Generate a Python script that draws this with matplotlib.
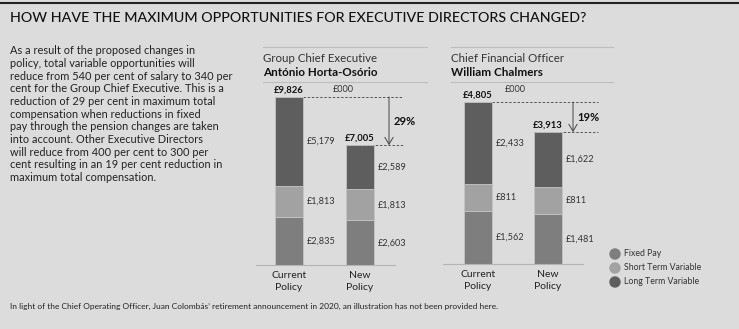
import matplotlib.pyplot as plt
from matplotlib.patches import Ellipse

# --- dados (£000) ---
COMPONENTS = ["Fixed Pay", "Short Term Variable", "Long Term Variable"]
COLORS     = ["#7e7e7e", "#a2a2a2", "#5e5e5e"]
POLICIES   = ["Current\nPolicy", "New\nPolicy"]

CEO_FIXED  = [2835, 2603]
CEO_SHORT  = [1813, 1813]
CEO_LONG   = [5179, 2589]
CEO_TOTAL  = [9826, 7005]
CEO_CHANGE = "29%"

CFO_FIXED  = [1562, 1481]
CFO_SHORT  = [811, 811]
CFO_LONG   = [2433, 1622]
CFO_TOTAL  = [4805, 3913]
CFO_CHANGE = "19%"

TITLE = "HOW HAVE THE MAXIMUM OPPORTUNITIES FOR EXECUTIVE DIRECTORS CHANGED?"
BODY = [
    "As a result of the proposed changes in",
    "policy, total variable opportunities will",
    "reduce from 540 per cent of salary to 340 per",
    "cent for the Group Chief Executive. This is a",
    "reduction of 29 per cent in maximum total",
    "compensation when reductions in fixed",
    "pay through the pension changes are taken",
    "into account. Other Executive Directors",
    "will reduce from 400 per cent to 300 per",
    "cent resulting in an 19 per cent reduction in",
    "maximum total compensation.",
]
FOOTER = ("In light of the Chief Operating Officer, Juan Colombás\u2019 retirement "
          "announcement in 2020, an illustration has not been provided here.")

BG   = "#dcdcdc"
FONT = "Lato"
W, H = 739, 329

plt.rcParams["font.family"] = [FONT, "DejaVu Sans"]

fig = plt.figure(figsize=(W / 100, H / 100), dpi=100)
fig.patch.set_facecolor(BG)


def ftext(x, y, s, **kw):
    # texto em coordenadas de pixel da figura
    return fig.text(x / W, 1 - y / H, s, **kw)


def fline(x0, x1, y, **kw):
    fig.add_artist(plt.Line2D([x0 / W, x1 / W], [1 - y / H, 1 - y / H], **kw))


def px_axes(x0, x1, y0, y1):
    return fig.add_axes([x0 / W, 1 - y1 / H, (x1 - x0) / W, (y1 - y0) / H])


# moldura / título
fline(0, W, 3, color="#222222", lw=1.5)
ftext(10, 18, TITLE, fontsize=10.3, color="#111111", va="center", fontweight="medium")
for i, line in enumerate(BODY):
    ftext(10, 51 + i * 12.65, line, fontsize=7.9, color="#222222", va="center")
ftext(10, 306, FOOTER, fontsize=6.05, color="#222222", va="center")


def draw_panel(ax, fixed, short, long_, totals, change, px_per_unit, bar_px,
               dash_end, arrow_x, unit_x, role, name, head_x0, head_x1):
    xs = [0, 1]
    width = bar_px
    segs = [fixed, short, long_]
    bottoms = [0, 0]
    for vals, col in zip(segs, COLORS):
        ax.bar(xs, vals, width, bottom=bottoms, color=col,
               edgecolor="#c4c4c4", linewidth=0.6, zorder=2)
        for x, b, v in zip(xs, bottoms, vals):
            ax.annotate(f"£{v:,}", (x + width / 2, b + v / 2), xytext=(3, 0),
                        textcoords="offset points", va="center", ha="left",
                        fontsize=6.6, color="#333333")
        bottoms = [b + v for b, v in zip(bottoms, vals)]

    # linhas tracejadas nos totais
    starts = [xs[0] + width / 2, xs[1] - width / 2]
    for x, t, x0 in zip(xs, totals, starts):
        ax.annotate(f"£{t:,}", (x, t), xytext=(0, 2), textcoords="offset points",
                    ha="center", va="bottom", fontsize=6.8, fontweight="bold",
                    color="#111111")
        ax.plot([x0, dash_end], [t, t], ls=(0, (2.5, 1.8)), color="#555555",
                lw=0.7, clip_on=False, zorder=1)

    ax.annotate("", xy=(arrow_x, totals[1]), xytext=(arrow_x, totals[0]),
                arrowprops=dict(arrowstyle="->,head_length=0.5,head_width=0.3",
                                color="#444444", lw=0.7, shrinkA=0, shrinkB=0),
                annotation_clip=False)
    ax.text(arrow_x + 0.06, (totals[0] + totals[1]) / 2, change,
            fontsize=8, fontweight="bold", color="#111111", va="center",
            ha="left", clip_on=False)
    ax.text(unit_x, 1.0, "£000", transform=ax.get_xaxis_transform(),
            fontsize=6.6, color="#333333", ha="center", va="center")

    ax.set_xticks(xs)
    ax.set_xticklabels(POLICIES, fontsize=7.5, color="#222222", linespacing=1.35)
    ax.tick_params(axis="x", length=0, pad=4.5)
    ax.set_yticks([])
    ax.set_ylim(0, 175 / px_per_unit)
    for s in ["top", "left", "right"]:
        ax.spines[s].set_visible(False)
    ax.spines["bottom"].set_color("#b4b4b4")
    ax.spines["bottom"].set_linewidth(0.8)
    ax.patch.set_alpha(0)

    fline(head_x0, head_x1, 47, color="#bdbdbd", lw=0.8)
    fline(head_x0, head_x1, 82, color="#bdbdbd", lw=0.8)
    ftext(head_x0, 58, role, fontsize=8.3, color="#333333", va="center")
    ftext(head_x0, 72, name, fontsize=8.4, color="#111111", va="center",
          fontweight="bold")


# painel CEO: barras centradas em 289 e 360 px
ax1 = px_axes(256, 395, 90, 265)
ax1.set_xlim((256 - 289) / 71, (395 - 289) / 71)
draw_panel(ax1, CEO_FIXED, CEO_SHORT, CEO_LONG, CEO_TOTAL, CEO_CHANGE,
           0.0171, 28 / 71, (403 - 289) / 71, (389 - 289) / 71, (343 - 289) / 71,
           "Group Chief Executive", "António Horta-Osório", 263, 427)

# painel CFO: barras centradas em 478 e 548 px
ax2 = px_axes(443, 583, 90, 264)
ax2.set_xlim((443 - 478) / 70, (583 - 478) / 70)
draw_panel(ax2, CFO_FIXED, CFO_SHORT, CFO_LONG, CFO_TOTAL, CFO_CHANGE,
           0.0339, 28 / 70, (598 - 478) / 70, (573 - 478) / 70, (515 - 478) / 70,
           "Chief Financial Officer", "William Chalmers", 451, 613)

# legenda
for i, (lab, col) in enumerate(zip(COMPONENTS, COLORS)):
    y = 254 + i * 14
    fig.add_artist(Ellipse((615 / W, 1 - y / H), 10 / W, 10 / H, color=col,
                           transform=fig.transFigure))
    ftext(624, y, lab, fontsize=6.3, color="#333333", va="center")

fig.savefig("out.png", dpi=100, facecolor=BG)
